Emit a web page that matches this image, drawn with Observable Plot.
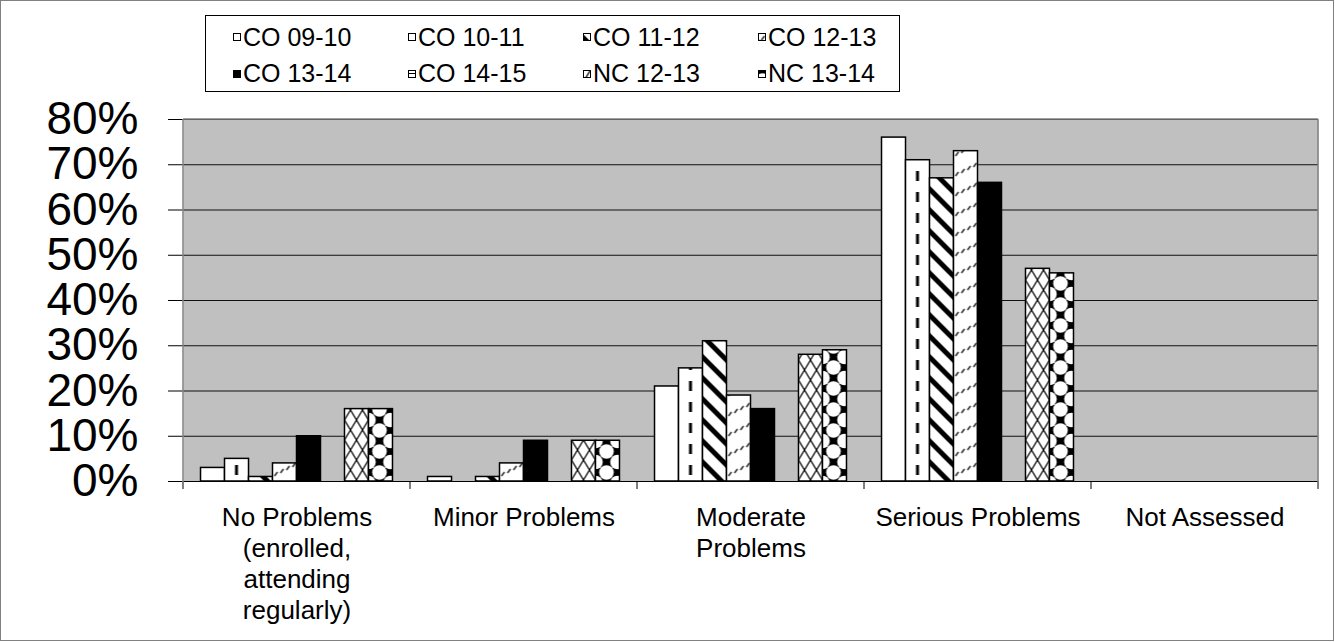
<!DOCTYPE html>
<html>
<head>
<meta charset="utf-8">
<script src="https://cdn.jsdelivr.net/npm/d3@7"></script>
<script src="https://cdn.jsdelivr.net/npm/@observablehq/plot@0.6"></script>
<style>
html, body { margin: 0; padding: 0; background: #fff; }
#wrap { position: relative; width: 1335px; height: 642px; font-family: "Liberation Sans", Arial, sans-serif; }
#border { position: absolute; left: 0; top: 0; width: 1334px; height: 641px; box-sizing: border-box; border: 1px solid #808080; pointer-events: none; }
#chart { position: absolute; left: 0; top: 0; }
#legend { position: absolute; left: 205px; top: 15px; width: 695px; height: 77px; box-sizing: border-box;
  border: 1px solid #000; background: #fff; display: grid; grid-template-columns: repeat(4, 175px);
  grid-auto-rows: 36.6px; padding: 3px 0 0 27px; align-items: center; }
.item { display: flex; align-items: center; font-size: 25px; color: #000; white-space: nowrap; line-height: 1; }
.item svg { margin-right: 2px; flex: none; }
</style>
</head>
<body>
<div id="wrap">
  <div id="chart"></div>
  <div id="legend"></div>
  <div id="border"></div>
</div>
<script>
// ---- data ----
const categories = ["No Problems (enrolled, attending regularly)", "Minor Problems", "Moderate Problems", "Serious Problems", "Not Assessed"];
const categoryLabels = ["No Problems\n(enrolled,\nattending\nregularly)", "Minor Problems", "Moderate\nProblems", "Serious Problems", "Not Assessed"];
const series = ["CO 09-10", "CO 10-11", "CO 11-12", "CO 12-13", "CO 13-14", "CO 14-15", "NC 12-13", "NC 13-14"];
const co0910 = [3, 1, 21, 76, 0];
const co1011 = [5, 0, 25, 71, 0];
const co1112 = [1, 1, 31, 67, 0];
const co1213 = [4, 4, 19, 73, 0];
const co1314 = [10, 9, 16, 66, 0];
const co1415 = [null, null, null, null, null];
const nc1213 = [16, 9, 28, 47, 0];
const nc1314 = [16, 9, 29, 46, 0];
const yTicks = [0, 10, 20, 30, 40, 50, 60, 70, 80];

const seriesValues = [co0910, co1011, co1112, co1213, co1314, co1415, nc1213, nc1314];
const data = [];
categories.forEach((c, i) => series.forEach((s, j) => {
  const v = seriesValues[j][i];
  if (v != null) data.push({category: c, series: s, value: v});
}));

// ---- styles (fills) ----
const fills = {
  "CO 09-10": "#ffffff",
  "CO 10-11": "url(#p-co1011)",
  "CO 11-12": "url(#p-co1112)",
  "CO 12-13": "url(#p-co1213)",
  "CO 13-14": "#000000",
  "CO 14-15": "url(#p-co1415)",
  "NC 12-13": "url(#p-nc1213)",
  "NC 13-14": "url(#p-nc1314)"
};

const plot = Plot.plot({
  width: 1335,
  height: 642,
  marginLeft: 182,
  marginRight: 17,
  marginTop: 119,
  marginBottom: 161,
  fx: {domain: categories, padding: 0, label: null},
  x: {domain: series, paddingInner: 0, paddingOuter: 0.73, round: false, axis: null},
  y: {domain: [0, 80]},
  color: {type: "identity"},
  style: {fontFamily: "'Liberation Sans', Arial, sans-serif", background: "transparent", overflow: "visible", color: "#000"},
  marks: [
    Plot.frame({facet: "super", fill: "#c0c0c0", stroke: "none"}),
    Plot.gridY(yTicks.filter(t => t > 0), {stroke: "#111", strokeOpacity: 1}),
    Plot.barY(data, {fx: "category", x: "series", y: "value", fill: d => fills[d.series], stroke: "#000", strokeWidth: 1.5}),
    Plot.ruleY([0], {stroke: "#000", strokeWidth: 1.2}),
    Plot.axisY(yTicks, {tickSize: 15, tickPadding: 30, fontSize: 46, tickFormat: d => d + "%", label: null, stroke: "#000"}),
    Plot.axisFx({anchor: "bottom", tickSize: 0, tickPadding: 23, fontSize: 26, lineHeight: 1.19,
      tickFormat: c => categoryLabels[categories.indexOf(c)], label: null})
  ]
});

const svg = d3.select(plot);
const defs = svg.insert("defs", ":first-child");
function pat(id, w, h) {
  return defs.append("pattern").attr("id", id).attr("patternUnits", "userSpaceOnUse")
    .attr("width", w).attr("height", h);
}
// CO 10-11: vertical dashed line
const p1 = pat("p-co1011", 24, 21);
p1.append("rect").attr("width", 200).attr("height", 21).attr("fill", "#fff");
const dash = p1.append("rect").attr("x", 10.5).attr("y", 3).attr("width", 3).attr("height", 10).attr("fill", "#000");
// CO 11-12: wide diagonal stripes
const p2 = pat("p-co1112", 21, 21);
p2.append("rect").attr("width", 21).attr("height", 21).attr("fill", "#fff");
p2.append("path").attr("d", "M-5,-5L26,26M16,-5L26,5M-5,16L5,26").attr("stroke", "#000").attr("stroke-width", 5);
// CO 12-13: small dashed diagonals
const p3 = pat("p-co1213", 24, 20);
p3.append("rect").attr("width", 24).attr("height", 20).attr("fill", "#fff");
p3.append("path").attr("d", "M2,16l3,-4M8,13l3,-4M14,10l3,-4M20,7l3,-4").attr("stroke", "#333").attr("stroke-width", 1.6);
// CO 14-15: horizontal lines
const p4 = pat("p-co1415", 8, 6);
p4.append("rect").attr("width", 8).attr("height", 6).attr("fill", "#fff");
p4.append("path").attr("d", "M0,3.5H8").attr("stroke", "#000").attr("stroke-width", 1);
// NC 12-13: trellis
const p5 = pat("p-nc1213", 12, 20);
p5.append("rect").attr("width", 12).attr("height", 20).attr("fill", "#fff");
p5.append("path").attr("d", "M0,0L12,20M12,0L0,20").attr("stroke", "#000").attr("stroke-width", 1.2);
// NC 13-14: white circles on black
const p6 = pat("p-nc1314", 22, 21);
p6.append("rect").attr("width", 22).attr("height", 21).attr("fill", "#000");
[[0,0],[22,0],[0,21],[22,21],[11,10.5]].forEach(([cx, cy]) =>
  p6.append("circle").attr("cx", cx).attr("cy", cy).attr("r", 7.3).attr("fill", "#fff"));

// align patterns to bar left edges
[["p-co1011", p1], ["p-co1112", p2], ["p-co1213", p3], ["p-nc1213", p5], ["p-nc1314", p6]].forEach(([id, p]) => {
  const r = plot.querySelector(`rect[fill="url(#${id})"]`);
  if (r) {
    const rx = +r.getAttribute("x"), rw = +r.getAttribute("width");
    p.attr("x", rx);
    if (id === "p-co1011") { p.attr("width", rw); dash.attr("x", rw / 2 - 1.5); }
  }
});

// plot-area outline and category boundary ticks, from the library's scales
const fxS = plot.scale("fx"), yS = plot.scale("y");
const bounds = categories.map(c => fxS.apply(c));
bounds.push(fxS.apply(categories[categories.length - 1]) + fxS.bandwidth);
const y0 = yS.apply(0), yTop = yS.apply(80);
const deco = svg.append("g");
bounds.forEach(x => deco.append("line").attr("x1", x).attr("x2", x).attr("y1", y0).attr("y2", y0 + 8)
  .attr("stroke", "#000"));
deco.append("line").attr("x1", bounds[0]).attr("x2", bounds[0]).attr("y1", yTop).attr("y2", y0 + 8).attr("stroke", "#808080").attr("stroke-width", 1.5);
deco.append("line").attr("x1", bounds[bounds.length - 1]).attr("x2", bounds[bounds.length - 1]).attr("y1", yTop).attr("y2", y0 + 8).attr("stroke", "#808080").attr("stroke-width", 1.5);
deco.append("line").attr("x1", bounds[0]).attr("x2", bounds[bounds.length - 1]).attr("y1", yTop).attr("y2", yTop).attr("stroke", "#808080").attr("stroke-width", 1.5);

document.getElementById("chart").appendChild(plot);

// legend
const legend = d3.select("#legend");
series.forEach(s => {
  const item = legend.append("div").attr("class", "item");
  const sw = item.append("svg").attr("width", 8).attr("height", 8);
  sw.append("rect").attr("x", 0.5).attr("y", 0.5).attr("width", 7).attr("height", 7)
    .attr("fill", fills[s]).attr("stroke", "#000").attr("stroke-width", 1);
  item.append("span").text(s);
});
</script>
</body>
</html>
